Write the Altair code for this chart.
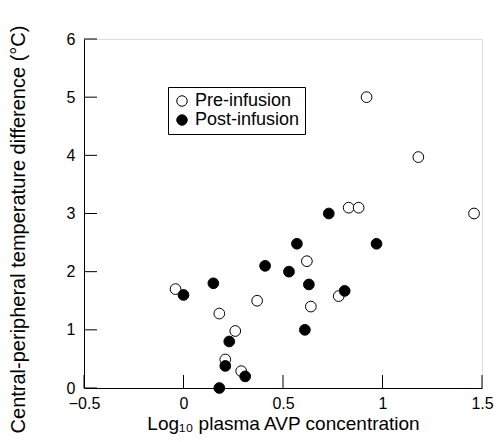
import altair as alt
import pandas as pd

# Data
pre_x = [0.92, 1.18, 0.83, 0.88, 1.46, 0.62, -0.04, 0.78, 0.37, 0.64, 0.18, 0.26, 0.21, 0.29]
pre_y = [5.0, 3.97, 3.1, 3.1, 3.0, 2.18, 1.7, 1.58, 1.5, 1.4, 1.28, 0.98, 0.49, 0.29]
post_x = [0.73, 0.57, 0.97, 0.41, 0.53, 0.15, 0.63, 0.81, 0.0, 0.61, 0.23, 0.21, 0.31, 0.18]
post_y = [3.0, 2.48, 2.48, 2.1, 2.0, 1.8, 1.78, 1.67, 1.6, 1.0, 0.8, 0.38, 0.2, 0.0]

groups = ["Pre-infusion", "Post-infusion"]
x_ticks = [-0.5, 0, 0.5, 1, 1.5]
y_ticks = [0, 1, 2, 3, 4, 5, 6]

x_title = "Log\u2081\u2080 plasma AVP concentration"
y_title = "Central-peripheral temperature difference (\u00b0C)"

df = pd.DataFrame({
    "x": pre_x + post_x,
    "y": pre_y + post_y,
    "group": [groups[0]] * len(pre_x) + [groups[1]] * len(post_x),
})

W, H = 398, 349
FONT = "Liberation Sans, DejaVu Sans"

xscale = alt.Scale(domain=[x_ticks[0], x_ticks[-1]], nice=False, zero=False)
yscale = alt.Scale(domain=[y_ticks[0], y_ticks[-1]], nice=False, zero=False)

xaxis = alt.Axis(
    values=x_ticks, format="~g", title=x_title, ticks=False, tickSize=0, grid=False,
    domainColor="black", domainWidth=1, labelFontSize=16, labelPadding=7,
    labelColor="black", titleFontSize=19, titleFontWeight="normal",
    titleColor="black", titleBaseline="alphabetic", titleY=41,
    labelFont=FONT, titleFont=FONT, labelFlush=False)
yaxis = alt.Axis(
    values=y_ticks, format="~g", title=y_title, ticks=False, tickSize=0, grid=False,
    domainColor="black", domainWidth=1, labelFontSize=16, labelPadding=9,
    labelColor="black", titleFontSize=20, titleFontWeight="normal",
    titleColor="black", titleBaseline="alphabetic", titleX=-60, titleY=190,
    titleAngle=-90, labelFont=FONT, titleFont=FONT, labelFlush=False)

points = alt.Chart(df).mark_circle(
    size=115, stroke="black", strokeWidth=1, opacity=1
).encode(
    x=alt.X("x:Q", scale=xscale, axis=xaxis),
    y=alt.Y("y:Q", scale=yscale, axis=yaxis),
    fill=alt.Fill("group:N", scale=alt.Scale(domain=groups, range=["white", "black"]),
                  legend=alt.Legend(
                      title=None, orient="none", legendX=84, legendY=48,
                      strokeColor="black", padding=5, symbolType="circle",
                      symbolSize=110, symbolStrokeColor="black", symbolStrokeWidth=1,
                      labelFontSize=18, labelFont=FONT, labelColor="black",
                      rowPadding=1, labelOffset=4, fillColor="white")),
    order=alt.Order("group:N", sort="descending"),
)

yt = alt.Chart(pd.DataFrame({"v": y_ticks})).mark_rule(color="black", strokeWidth=1).encode(
    y=alt.Y("v:Q", scale=yscale, axis=yaxis),
    x=alt.value(0), x2=alt.value(13),
)
xt = alt.Chart(pd.DataFrame({"v": x_ticks})).mark_rule(color="black", strokeWidth=1).encode(
    x=alt.X("v:Q", scale=xscale, axis=xaxis),
    y=alt.value(H), y2=alt.value(H - 13),
)

chart = alt.layer(points, yt, xt).properties(
    width=W, height=H,
    autosize=alt.AutoSizeParams(type="none"),
    padding={"left": 76, "top": 31, "right": 12, "bottom": 46},
).configure_view(strokeWidth=0, stroke="transparent").configure(background="white")

chart.save("out.html", embed_options={"renderer": "svg", "actions": False})
